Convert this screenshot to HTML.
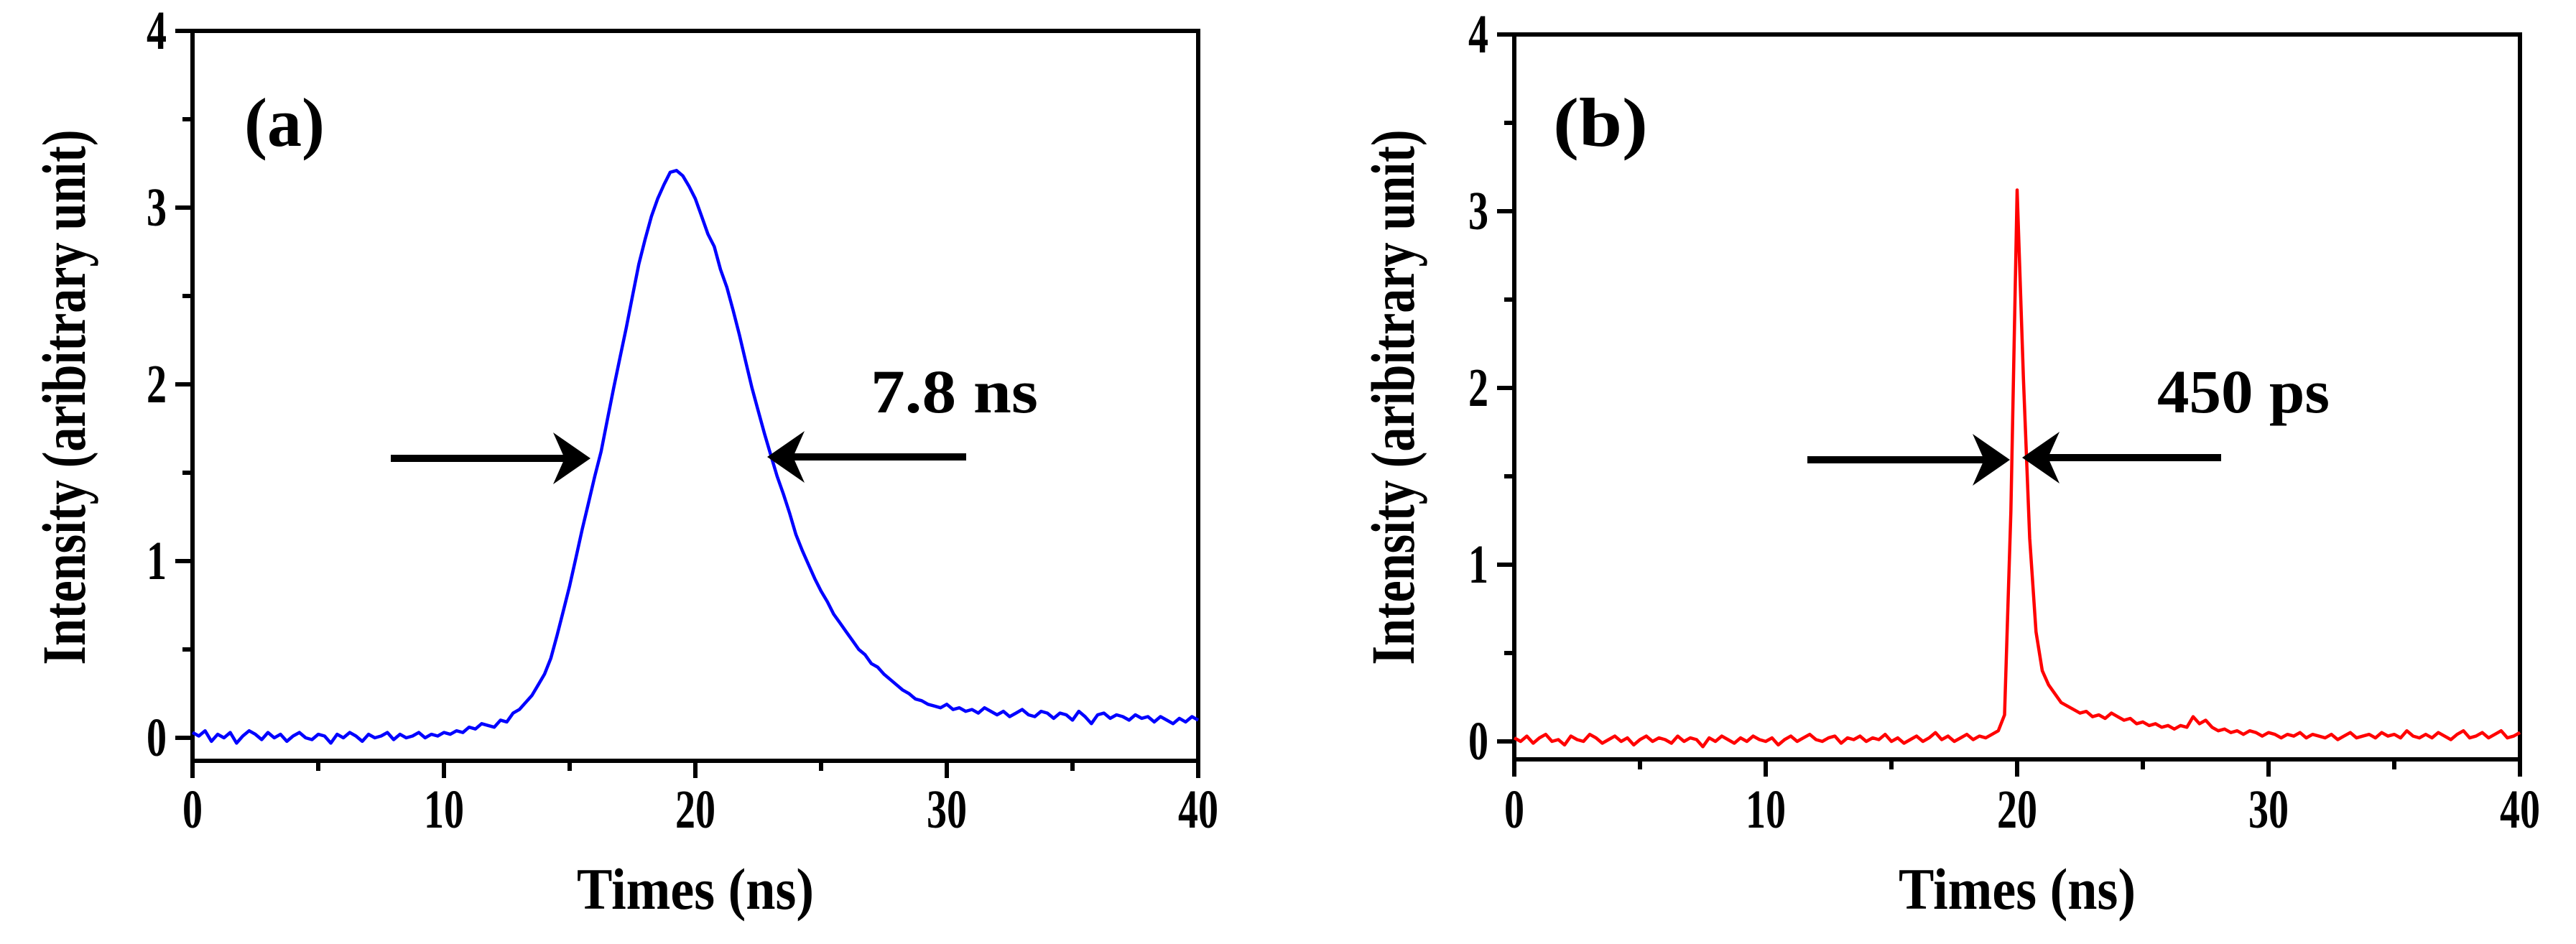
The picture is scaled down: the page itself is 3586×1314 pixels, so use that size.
<!DOCTYPE html>
<html><head><meta charset="utf-8">
<style>html,body{margin:0;padding:0;background:#fff;}svg{display:block;}
text{font-family:"Liberation Serif","Times New Roman",serif;font-weight:bold;fill:#000;}</style></head>
<body>
<svg id="fig" width="3586" height="1314" viewBox="0 0 3586 1314" xmlns="http://www.w3.org/2000/svg"></svg>
<script>
const xTicks = [0, 10, 20, 30, 40];
const yTicks = [0, 1, 2, 3, 4];
const seriesA = [0.03,0.01,0.04,-0.02,0.02,0.00,0.03,-0.03,0.01,0.04,0.02,-0.01,0.03,0.00,0.02,-0.02,0.01,0.03,0.00,-0.01,0.02,0.01,-0.03,0.02,0.00,0.03,0.01,-0.02,0.02,0.00,0.01,0.03,-0.01,0.02,0.00,0.01,0.03,0.00,0.02,0.01,0.03,
0.02,0.04,0.03,0.06,0.05,0.08,0.07,0.06,
0.10,0.09,0.14,0.16,0.20,0.24,0.30,0.36,
0.45,0.58,0.72,0.86,1.02,1.18,1.33,1.48,
1.62,1.80,1.98,2.15,2.32,2.50,2.68,2.82,
2.95,3.05,3.13,3.20,3.21,3.18,3.12,3.05,
2.95,2.85,2.78,2.65,2.55,2.42,2.28,2.13,
1.98,1.85,1.72,1.60,1.48,1.38,1.27,1.15,
1.06,0.98,0.90,0.83,0.77,0.70,0.65,0.60,
0.55,0.50,0.47,0.42,0.40,0.36,0.33,0.30,
0.27,0.25,0.22,0.21,0.19,0.18,0.17,0.19,
0.16,0.17,0.15,0.16,0.14,0.17,0.15,0.13,
0.15,0.12,0.14,0.16,0.13,0.12,0.15,0.14,
0.11,0.14,0.13,0.10,0.15,0.12,0.08,0.13,
0.14,0.11,0.13,0.12,0.10,0.13,0.11,0.12,
0.09,0.12,0.10,0.08,0.11,0.09,0.12,0.10];
const seriesB = [0.02,0.00,0.03,-0.01,0.02,0.04,0.00,0.01,-0.02,0.03,0.01,0.00,0.04,0.02,-0.01,0.01,0.03,0.00,0.02,-0.02,0.01,0.03,0.00,0.02,0.01,-0.01,0.03,0.00,0.02,0.01,-0.03,0.02,0.00,0.03,0.01,-0.01,0.02,0.00,0.03,0.01,0.00,
0.02,-0.02,0.01,0.03,0.00,0.02,0.04,0.01,
0.00,0.02,0.03,-0.01,0.02,0.01,0.03,0.00,
0.02,0.01,0.04,0.00,0.02,-0.01,0.01,0.03,
0.00,0.02,0.05,0.01,0.03,0.00,0.02,0.04,
0.01,0.03,0.02,0.04,0.06,0.15,1.30,3.12,
2.05,1.15,0.62,0.40,0.32,0.27,0.22,0.20,
0.18,0.16,0.17,0.14,0.15,0.13,0.16,0.14,
0.12,0.13,0.10,0.11,0.09,0.10,0.08,0.09,
0.07,0.09,0.08,0.14,0.10,0.12,0.08,0.06,
0.07,0.05,0.06,0.04,0.06,0.05,0.03,0.05,
0.04,0.02,0.04,0.03,0.05,0.02,0.04,0.03,
0.02,0.04,0.01,0.03,0.05,0.02,0.03,0.04,
0.02,0.05,0.03,0.04,0.02,0.06,0.03,0.02,
0.04,0.02,0.05,0.03,0.01,0.04,0.06,0.02,
0.03,0.05,0.02,0.04,0.06,0.02,0.03,0.05];
const timeStart = 0, timeEnd = 40;

const NS = 'http://www.w3.org/2000/svg';
const svg = document.getElementById('fig');
function mk(tag, attrs, parent) {
  const e = document.createElementNS(NS, tag);
  for (const k in attrs) e.setAttribute(k, attrs[k]);
  (parent || svg).appendChild(e);
  return e;
}

function panel(p) {
  const g = mk('g', {});
  
  
  const X = v => p.L + (v - 0) / 40 * (p.R - p.L);
  const Y = v => p.y0 - v * (p.y0 - p.y4) / 4;
  const B = p.B, T = Y(4);
  const frame = mk('rect', {x: p.L, y: T, width: p.R - p.L, height: B - T, fill: 'none', stroke: '#000', 'stroke-width': 6}, g);
  
  
  for (let v = 0; v <= 40; v += 5) {
    const major = v % 10 === 0;
    const t = mk('line', {x1: X(v), x2: X(v), y1: B, y2: B + (major ? 24 : 14), stroke: '#000', 'stroke-width': 6}, g);
    
    
  }
  xTicks.forEach(v => {
    const s = String(v);
    const t = mk('text', {x: X(v), y: 1152, 'font-size': 76, 'text-anchor': 'middle', textLength: 28 * s.length, lengthAdjust: 'spacingAndGlyphs'}, g);
    t.textContent = s;
    
    
  });
  for (let v = 0; v <= 4; v += 0.5) {
    const major = v % 1 === 0;
    const t = mk('line', {x1: p.L, x2: p.L - (major ? 24 : 14), y1: Y(v), y2: Y(v), stroke: '#000', 'stroke-width': 6}, g);
    
    
  }
  yTicks.forEach(v => {
    const t = mk('text', {x: p.L - 36, y: Y(v) + 25, 'font-size': 76, 'text-anchor': 'end', textLength: 28, lengthAdjust: 'spacingAndGlyphs'}, g);
    t.textContent = v;
    
    
  });
  const xt = mk('text', {x: (p.L + p.R) / 2, y: 1265, 'font-size': 82, 'text-anchor': 'middle', textLength: 330, lengthAdjust: 'spacingAndGlyphs'}, g);
  xt.textContent = 'Times (ns)';
  
  
  const yt = mk('text', {x: 0, y: 0, 'font-size': 86, 'text-anchor': 'middle', textLength: 745, lengthAdjust: 'spacingAndGlyphs', transform: `translate(${p.ytx},553) rotate(-90)`}, g);
  yt.textContent = 'Intensity (aribitrary unit)';
  
  
  const n = p.data.length;
  const pts = p.data.map((v, i) => X(timeStart + i * (timeEnd - timeStart) / (n - 1)).toFixed(1) + ',' + Y(v).toFixed(1)).join(' ');
  const line = mk('polyline', {points: pts, fill: 'none', stroke: p.color, 'stroke-width': 4.5, 'stroke-linejoin': 'round'}, g);
  
  
  const lab = mk('text', {x: p.labX, y: 203, 'font-size': 96, textLength: p.labW, lengthAdjust: 'spacingAndGlyphs'}, g);
  lab.textContent = p.label;
  
  
  const ann = mk('text', {x: p.annX, y: 574, 'font-size': 86, textLength: p.annW, lengthAdjust: 'spacingAndGlyphs'}, g);
  ann.textContent = p.ann;
  
  
  [p.a1, p.a2].forEach(a => {
    const [x0, x1, y] = a;
    const dir = Math.sign(x1 - x0);
    const ag = mk('g', {}, g);
    
    
    mk('line', {x1: x0, x2: x1 - dir * 30, y1: y, y2: y, stroke: '#000', 'stroke-width': 10}, ag);
    mk('polygon', {points: `${x1},${y} ${x1 - dir * 52},${y - 36} ${x1 - dir * 36},${y} ${x1 - dir * 52},${y + 36}`, fill: '#000'}, ag);
  });
}

panel({name: 'panel-a', L: 268, R: 1668, y4: 43, y0: 1027, B: 1059, ytx: 118, data: seriesA, color: '#0000ff', seriesName: 'intensity-line-a',
  label: '(a)', labX: 340, labW: 112, ann: '7.8 ns', annX: 1212, annW: 233, a1: [544, 822, 638], a2: [1345, 1068, 636]});
panel({name: 'panel-b', L: 2108, R: 3508, y4: 48, y0: 1032, B: 1057, ytx: 1968, data: seriesB, color: '#ff0000', seriesName: 'intensity-line-b',
  label: '(b)', labX: 2162, labW: 132, ann: '450 ps', annX: 3003, annW: 240, a1: [2516, 2798, 640], a2: [3092, 2815, 637]});
</script>
</body></html>
